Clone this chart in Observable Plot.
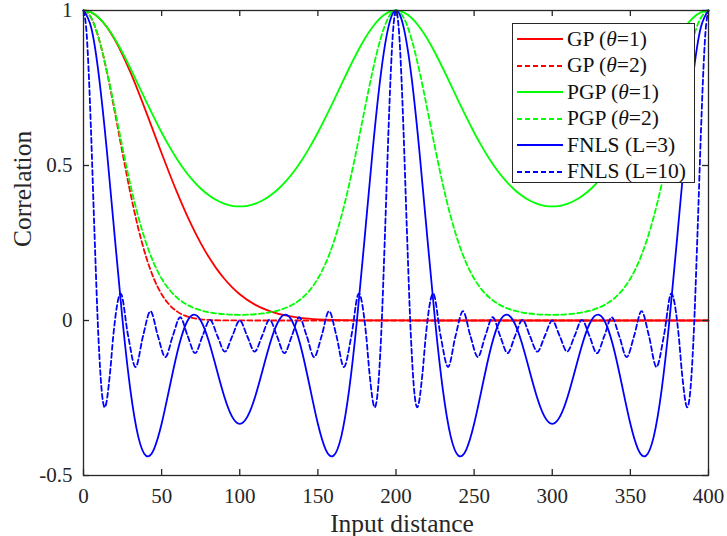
<!DOCTYPE html>
<html>
<head>
<meta charset="utf-8">
<script src="https://cdn.jsdelivr.net/npm/d3@7"></script>
<script src="https://cdn.jsdelivr.net/npm/@observablehq/plot@0.6"></script>
<style>
  body { margin: 0; background: white; }
  #wrap { position: relative; width: 727px; height: 536px; font-family: "Times New Roman", "Liberation Serif", Tinos, "DejaVu Serif", serif; color: #262626; }
  #legend { position: absolute; left: 512px; top: 23px; width: 183px; height: 160px; box-sizing: border-box;
            border: 1px solid #262626; background: white; padding-top: 2px; }
  .row { display: flex; align-items: center; height: 26.5px; font-size: 21.5px; white-space: nowrap; color: #111; }
  .row svg { margin-left: 4px; margin-right: 4px; flex: none; }
  #chart svg text { font-family: "Times New Roman", "Liberation Serif", Tinos, "DejaVu Serif", serif; }
</style>
</head>
<body>
<div id="wrap"><div id="chart"></div><div id="legend"></div></div>
<script>
// ---- data ----
const xTicks = [0, 50, 100, 150, 200, 250, 300, 350, 400];
const yTicks = [-0.5, 0, 0.5, 1];

const gp1X = [0,5,10,15,20,25,30,35,40,45,50,55,60,65,70,75,80,85,90,95,100,110,120,130,140,150,160,180,200,250,300,350,400];
const gp1Y = [1,0.9939,0.9756,0.9460,0.9060,0.8571,0.8009,0.7392,0.6739,0.6067,0.5396,0.4741,0.4114,0.3526,0.2985,0.2496,0.2062,0.1682,0.1355,0.1079,0.0848,0.0505,0.0286,0.0155,0.0079,0.0039,0.0018,0.0003,0.0001,0,0,0,0];

const gp2X = [0,5,10,15,20,25,30,35,40,45,50,55,60,65,70,75,80,90,100,150,200,250,300,350,400];
const gp2Y = [1,0.9756,0.9060,0.8009,0.6739,0.5396,0.4114,0.2985,0.2062,0.1355,0.0848,0.0505,0.0286,0.0155,0.0079,0.0039,0.0018,0.0003,0.0001,0,0,0,0,0,0];

const dist5 = [0,5,10,15,20,25,30,35,40,45,50,55,60,65,70,75,80,85,90,95,100,
  105,110,115,120,125,130,135,140,145,150,155,160,165,170,175,180,185,190,195,200,
  205,210,215,220,225,230,235,240,245,250,255,260,265,270,275,280,285,290,295,300,
  305,310,315,320,325,330,335,340,345,350,355,360,365,370,375,380,385,390,395,400];

const pgp1Y = [1,0.9939,0.9758,0.9470,0.9089,0.8638,0.8137,0.7611,0.7079,0.6559,0.6065,0.5609,0.5197,0.4833,0.4521,0.4259,0.4048,0.3885,0.3770,0.3701,0.3679,
  0.3701,0.3770,0.3885,0.4048,0.4259,0.4521,0.4833,0.5197,0.5609,0.6065,0.6559,0.7079,0.7611,0.8137,0.8638,0.9089,0.9470,0.9758,0.9939,1,
  0.9939,0.9758,0.9470,0.9089,0.8638,0.8137,0.7611,0.7079,0.6559,0.6065,0.5609,0.5197,0.4833,0.4521,0.4259,0.4048,0.3885,0.3770,0.3701,0.3679,
  0.3701,0.3770,0.3885,0.4048,0.4259,0.4521,0.4833,0.5197,0.5609,0.6065,0.6559,0.7079,0.7611,0.8137,0.8638,0.9089,0.9470,0.9758,0.9939,1];

const pgp2Y = [1,0.9757,0.9068,0.8042,0.6825,0.5567,0.4385,0.3355,0.2511,0.1850,0.1353,0.0990,0.0729,0.0546,0.0418,0.0329,0.0268,0.0228,0.0202,0.0188,0.0183,
  0.0188,0.0202,0.0228,0.0268,0.0329,0.0418,0.0546,0.0729,0.0990,0.1353,0.1850,0.2511,0.3355,0.4385,0.5567,0.6825,0.8042,0.9068,0.9757,1,
  0.9757,0.9068,0.8042,0.6825,0.5567,0.4385,0.3355,0.2511,0.1850,0.1353,0.0990,0.0729,0.0546,0.0418,0.0329,0.0268,0.0228,0.0202,0.0188,0.0183,
  0.0188,0.0202,0.0228,0.0268,0.0329,0.0418,0.0546,0.0729,0.0990,0.1353,0.1850,0.2511,0.3355,0.4385,0.5567,0.6825,0.8042,0.9068,0.9757,1];

const fnls3Y = [1,0.9433,0.7826,0.5451,0.2697,0,-0.2241,-0.3738,-0.4363,-0.4162,-0.3333,-0.2178,-0.1030,-0.0180,0.0181,0,-0.0637,-0.1532,-0.2433,-0.3092,-0.3333,
  -0.3092,-0.2433,-0.1532,-0.0637,0,0.0181,-0.0180,-0.1030,-0.2178,-0.3333,-0.4162,-0.4363,-0.3738,-0.2241,0,0.2697,0.5451,0.7826,0.9433,1,
  0.9433,0.7826,0.5451,0.2697,0,-0.2241,-0.3738,-0.4363,-0.4162,-0.3333,-0.2178,-0.1030,-0.0180,0.0181,0,-0.0637,-0.1532,-0.2433,-0.3092,-0.3333,
  -0.3092,-0.2433,-0.1532,-0.0637,0,0.0181,-0.0180,-0.1030,-0.2178,-0.3333,-0.4162,-0.4363,-0.3738,-0.2241,0,0.2697,0.5451,0.7826,0.9433,1];

const fnls10X = [0,2,3.5,4.76,7,9.52,12,13.6,17,19.05,23.81,28.57,33.33,38.1,42.86,47.62,52.38,57.14,61.9,66.67,71.43,76.19,80.95,85.71,90.48,95.24,100,
  104.76,109.52,114.29,119.05,123.81,128.57,133.33,138.1,142.86,147.62,152.38,157.14,161.9,166.67,171.43,176.19,180.95,183,186.4,188,190.48,193,195.24,196.5,198,200,
  202,203.5,204.76,207,209.52,212,213.6,217,219.05,223.81,228.57,233.33,238.1,242.86,247.62,252.38,257.14,261.9,266.67,271.43,276.19,280.95,285.71,290.48,295.24,300,
  304.76,309.52,314.29,319.05,323.81,328.57,333.33,338.1,342.86,347.62,352.38,357.14,361.9,366.67,371.43,376.19,380.95,383,386.4,388,390.48,393,395.24,396.5,398,400];
const fnls10Y = [1,0.926,0.782,0.619,0.287,-0.05,-0.2445,-0.28,-0.168,-0.05,0.087,-0.05,-0.15,-0.05,0.030,-0.05,-0.118,-0.05,0.0105,-0.05,-0.1055,-0.05,0.0023,-0.05,-0.1006,-0.05,0,
  -0.05,-0.1006,-0.05,0.0023,-0.05,-0.1055,-0.05,0.0105,-0.05,-0.118,-0.05,0.030,-0.05,-0.15,-0.05,0.087,-0.05,-0.168,-0.28,-0.2445,-0.05,0.287,0.619,0.782,0.926,1,
  0.926,0.782,0.619,0.287,-0.05,-0.2445,-0.28,-0.168,-0.05,0.087,-0.05,-0.15,-0.05,0.030,-0.05,-0.118,-0.05,0.0105,-0.05,-0.1055,-0.05,0.0023,-0.05,-0.1006,-0.05,0,
  -0.05,-0.1006,-0.05,0.0023,-0.05,-0.1055,-0.05,0.0105,-0.05,-0.118,-0.05,0.030,-0.05,-0.15,-0.05,0.087,-0.05,-0.168,-0.28,-0.2445,-0.05,0.287,0.619,0.782,0.926,1];

const seriesNames = ["GP (θ=1)", "GP (θ=2)", "PGP (θ=1)", "PGP (θ=2)", "FNLS (L=3)", "FNLS (L=10)"];
const legendHtml = ["GP (<i>θ</i>=1)", "GP (<i>θ</i>=2)", "PGP (<i>θ</i>=1)", "PGP (<i>θ</i>=2)", "FNLS (L=3)", "FNLS (L=10)"];
const seriesColors = ["#ff0000", "#ff0000", "#00ff00", "#00ff00", "#0000ff", "#0000ff"];
const seriesDash = [null, "5,3", null, "5,3", null, "5,3"];

// ---- build tables ----
const zip = (xs, ys) => xs.map((x, i) => ({x, y: ys[i]}));
const series = [
  zip(gp1X, gp1Y), zip(gp2X, gp2Y), zip(dist5, pgp1Y), zip(dist5, pgp2Y), zip(dist5, fnls3Y), zip(fnls10X, fnls10Y)
];
const curves = ["monotone-x", "monotone-x", "natural", "natural", "natural", "monotone-x"];
const drawOrder = [1, 0, 2, 3, 4, 5];

const serifStack = "'Times New Roman', 'Liberation Serif', Tinos, 'DejaVu Serif', serif";
const frameColor = "#262626";
const lineMarks = drawOrder.map(i => Plot.line(series[i], {
  x: "x", y: "y", stroke: seriesColors[i], strokeWidth: 1.8,
  strokeDasharray: seriesDash[i] ?? undefined, curve: curves[i]
}));

const chart = Plot.plot({
  width: 727, height: 536,
  marginLeft: 83, marginRight: 19, marginTop: 10, marginBottom: 61,
  x: {domain: [0, 400]},
  y: {domain: [-0.5, 1]},
  style: {fontFamily: serifStack, fontSize: "21px", color: "#262626", background: "white", overflow: "visible"},
  marks: [
    ...lineMarks,
    Plot.frame({stroke: frameColor, strokeWidth: 1.3}),
    Plot.tickX(xTicks, {x: d => d, insetTop: 459, stroke: frameColor, strokeWidth: 1.3}),
    Plot.tickX(xTicks, {x: d => d, insetBottom: 459, stroke: frameColor, strokeWidth: 1.3}),
    Plot.tickY(yTicks, {y: d => d, insetRight: 619, stroke: frameColor, strokeWidth: 1.3}),
    Plot.tickY(yTicks, {y: d => d, insetLeft: 619, stroke: frameColor, strokeWidth: 1.3}),
    Plot.axisX({ticks: xTicks, tickSize: 0, tickPadding: 13, label: null, tickFormat: d => String(d), fontSize: 21}),
    Plot.axisY({ticks: yTicks, tickSize: 0, tickPadding: 11, label: null, tickFormat: d => String(d), fontSize: 21}),
    Plot.text(["Input distance"], {frameAnchor: "bottom", dx: 6, dy: 56, fontSize: 25.5, fill: frameColor}),
    Plot.text(["Correlation"], {frameAnchor: "left", rotate: -90, dx: -61, dy: 4, fontSize: 25.5, fill: frameColor})
  ]
});
document.getElementById("chart").appendChild(chart);

// ---- legend ----
const legend = document.getElementById("legend");
legendHtml.forEach((label, i) => {
  const row = document.createElement("div");
  row.className = "row";
  const dash = seriesDash[i] ? `stroke-dasharray="${seriesDash[i]}"` : "";
  row.innerHTML = `<svg width="46" height="10"><line x1="0" y1="5" x2="46" y2="5" stroke="${seriesColors[i]}" stroke-width="1.8" ${dash}/></svg><span>${label}</span>`;
  legend.appendChild(row);
});
</script>
</body>
</html>
